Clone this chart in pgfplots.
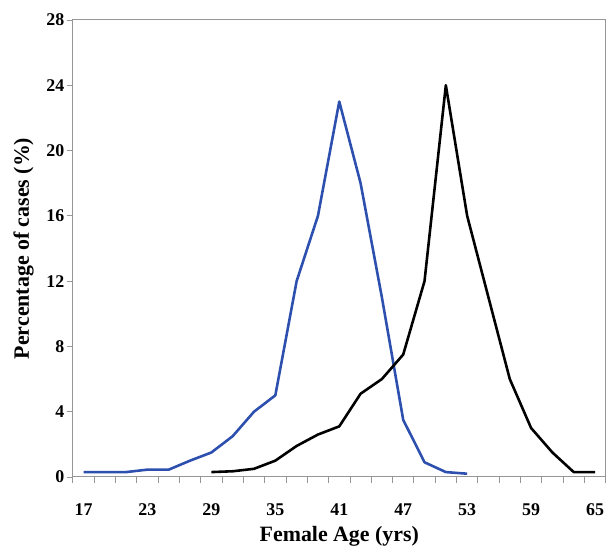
\documentclass[border=0pt]{standalone}
\usepackage{fontspec}
\setmainfont{Liberation Serif}
\usepackage{pgfplots}
\pgfplotsset{compat=1.18}

\definecolor{femblue}{RGB}{45,80,175}
\definecolor{axgray}{RGB}{150,150,150}

\begin{document}
\begin{tikzpicture}
\begin{axis}[
    width=534bp, height=458bp,
    scale only axis,
    xmin=16, xmax=66,
    ymin=0, ymax=28,
    axis line style={axgray, line width=1pt},
    every tick/.style={axgray, line width=0.8pt},
    tick align=outside,
    major tick length=6bp,
    xtick pos=bottom, ytick pos=left,
    % tick marks at category edges, labels at centres
    xtick={16,18,...,66},
    xticklabels={},
    extra x ticks={17,23,29,35,41,47,53,59,65},
    extra x tick labels={17,23,29,35,41,47,53,59,65},
    extra x tick style={major tick length=0pt},
    ytick={0,4,...,28},
    /pgf/number format/assume math mode=true,
    tick label style={font=\fontsize{18}{20}\selectfont\bfseries},
    yticklabel style={xshift=1bp},
    xticklabel style={yshift=-23bp},
    xlabel={Female Age (yrs)},
    ylabel={Percentage of cases (\%)},
    label style={font=\fontsize{22}{24}\selectfont\bfseries},
    xlabel style={at={(axis description cs:0.5,-0.141)}, anchor=base},
    ylabel style={at={(axis description cs:-0.0824,0.5)}, anchor=base},
    clip=false,
]
\addplot[femblue, line width=2.6pt, line join=round] coordinates {
  (17,0.3) (19,0.3) (21,0.3) (23,0.45) (25,0.45) (27,1.0) (29,1.5)
  (31,2.5) (33,4.0) (35,5.0) (37,12.0) (39,16.0) (41,23.0) (43,18.0)
  (45,11.0) (47,3.5) (49,0.9) (51,0.3) (53,0.2)
};
\addplot[black, line width=2.6pt, line join=round] coordinates {
  (29,0.3) (31,0.35) (33,0.5) (35,1.0) (37,1.9) (39,2.6) (41,3.1)
  (43,5.1) (45,6.0) (47,7.5) (49,12.0) (51,24.0) (53,16.0) (55,11.0)
  (57,6.0) (59,3.0) (61,1.5) (63,0.3) (65,0.3)
};
\end{axis}
\path ([shift={(-73bp,-79bp)}]current axis.south west) rectangle ([shift={(2bp,20bp)}]current axis.north east);
\end{tikzpicture}
\end{document}
